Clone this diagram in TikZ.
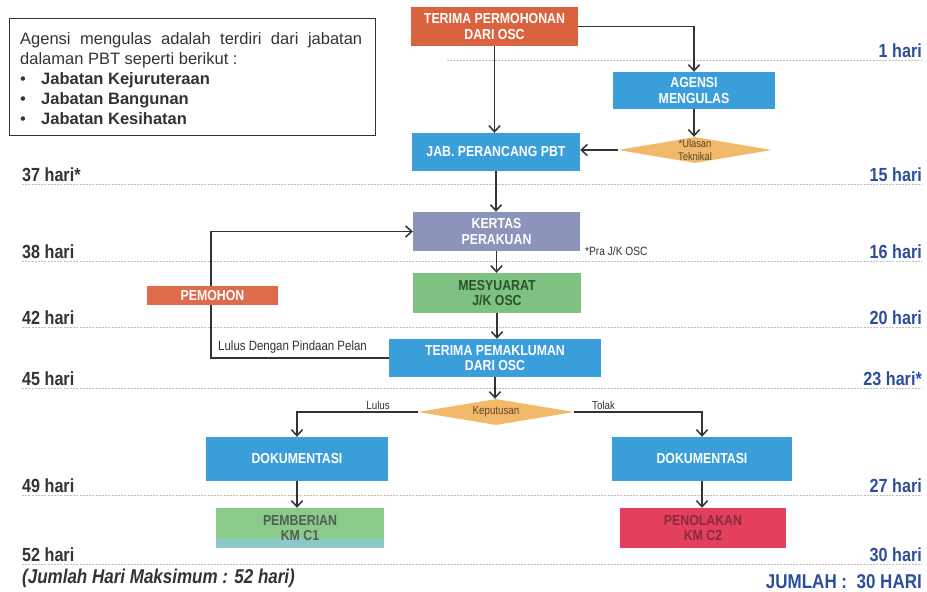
\documentclass[tikz,border=0pt]{standalone}
\usepackage{fontspec}
\setmainfont{Liberation Sans}
\newfontfamily\narrowf[FakeStretch=0.85]{Liberation Sans}
\usetikzlibrary{shapes.geometric,arrows.meta,calc}
\definecolor{orangec}{HTML}{D9633F}
\definecolor{pemohonc}{HTML}{DD6B4C}
\definecolor{bluec}{HTML}{3A9EDB}
\definecolor{kertasc}{HTML}{8C94B9}
\definecolor{greenc}{HTML}{7EC181}
\definecolor{pbgreen}{HTML}{8ACB8A}
\definecolor{pbteal}{HTML}{8CC8C6}
\definecolor{redc}{HTML}{E2405C}
\definecolor{diamondc}{HTML}{F2B96B}
\definecolor{linec}{HTML}{333333}
\definecolor{dayblue}{HTML}{2C4E9C}
\definecolor{daygray}{HTML}{333333}
\definecolor{dtext}{HTML}{5A4528}
\definecolor{pbtext}{HTML}{4F5F55}
\definecolor{pntext}{HTML}{8B2A3A}
\newcommand\boxfnt{\narrowf\bfseries\fontsize{14.5}{15.5}\selectfont}
\newcommand\dayfnt{\narrowf\bfseries\fontsize{19}{21}\selectfont}
\newcommand\lblfnt{\narrowf\fontsize{13.5}{15}\selectfont}
\newcommand\smallfnt{\narrowf\fontsize{11.5}{13}\selectfont}
\newcommand\notefnt{\fontsize{16.5}{20}\selectfont}
\begin{document}
\begin{tikzpicture}[x=1pt,y=-1pt,
  fbox/.style={draw=none, text=white, font=\boxfnt, align=center, inner sep=0pt},
  dia/.style={diamond, fill=diamondc, inner sep=0pt, draw=none},
  diatext/.style={font=\smallfnt, text=dtext, align=center, inner sep=0pt},
  arr/.style={draw=linec, line width=1.5pt, -{Straight Barb[length=6pt,width=11pt]}},
  guide/.style={draw=gray!50, line width=0.6pt, dash pattern=on 2pt off 1.2pt},
  dayl/.style={font=\dayfnt, text=daygray, anchor=base west, inner sep=0pt},
  dayr/.style={font=\dayfnt, text=dayblue, anchor=base east, inner sep=0pt},
  lbl/.style={font=\lblfnt, text=linec, inner sep=0pt}
]
\useasboundingbox[fill=white] (0,0) rectangle (927,592);

% guide lines
\draw[guide] (447,60) -- (922,60);
\foreach \yy in {184,261,327,388,495,564} {\draw[guide] (22,\yy) -- (922,\yy);}

% note box
\node[draw=linec, line width=0.9pt, minimum width=366pt, minimum height=117pt, anchor=north west, inner sep=0pt] (nb) at (9,18) {};
\node[anchor=north west, inner sep=0pt, align=left, font=\notefnt, text=linec] (nt) at (20,32)
 {\makebox[342pt][s]{Agensi mengulas adalah terdiri dari jabatan}\\
  dalaman PBT seperti berikut :\\
  \makebox[21pt][l]{•}\textbf{Jabatan Kejuruteraan}\\
  \makebox[21pt][l]{•}\textbf{Jabatan Bangunan}\\
  \makebox[21pt][l]{•}\textbf{Jabatan Kesihatan}};

% flow nodes
\node[fbox, fill=orangec, minimum width=167pt, minimum height=39pt] (t1) at (494.5,26.5) {TERIMA PERMOHONAN\\DARI OSC};
\node[fbox, fill=bluec, minimum width=162pt, minimum height=37pt] (ag) at (694,90.5) {AGENSI\\MENGULAS};
\node[dia, minimum width=154pt, minimum height=26pt,
      label={[diatext, font=\narrowf\fontsize{11}{13}\selectfont]center:{*Ulasan\\Teknikal}}] (ul) at (695,150) {};
\node[fbox, fill=bluec, minimum width=168pt, minimum height=38pt] (jab) at (496,152) {JAB. PERANCANG PBT};
\node[fbox, fill=kertasc, minimum width=167pt, minimum height=39pt] (kp) at (496.5,231.5) {KERTAS\\PERAKUAN};
\node[fbox, fill=greenc, minimum width=168pt, minimum height=40pt, text=linec!85!green] (ms) at (497,293) {MESYUARAT\\J/K OSC};
\node[fbox, fill=bluec, minimum width=212pt, minimum height=38pt] (tp) at (495,358) {TERIMA PEMAKLUMAN\\DARI OSC};
\node[dia, minimum width=156pt, minimum height=26pt,
      label={[diatext]center:{Keputusan}}] (kep) at (496,412) {};
\node[fbox, fill=bluec, minimum width=182pt, minimum height=44pt] (d1) at (297,459) {DOKUMENTASI};
\node[fbox, fill=bluec, minimum width=180pt, minimum height=44pt] (d2) at (702,459) {DOKUMENTASI};
\node[fbox, fill=pbgreen, text=pbtext, minimum width=168pt, minimum height=40pt,
      path picture={\fill[pbteal] ([yshift=10pt]path picture bounding box.south west) rectangle (path picture bounding box.south east);}] (pb) at (300,528) {PEMBERIAN\\KM C1};
\node[fbox, fill=redc, text=pntext, minimum width=166pt, minimum height=40pt] (pn) at (703,528) {PENOLAKAN\\KM C2};

% connectors
\draw[arr] (t1.south) -- (t1.south |- jab.north);
\draw[arr] (t1.east) -| (ag.north);
\draw[arr] (ag.south) -- (ag.south |- ul.north);
\draw[arr] (ul.west) -- (ul.west -| jab.east);
\draw[arr] (jab.south) -- (jab.south |- kp.north);
\draw[arr] (kp.south) -- (kp.south |- ms.north);
\draw[arr] (ms.south) -- (ms.south |- tp.north);
\coordinate (lp) at (211,358);
\draw[arr] (tp.west) -- (lp) |- (kp.west);
\draw[arr] (tp.south) -- (tp.south |- kep.north);
\draw[arr] (kep.west) -| (d1.north);
\draw[arr] (kep.east) -| (d2.north);
\draw[arr] (d1.south) -- (d1.south |- pb.north);
\draw[arr] (d2.south) -- (d2.south |- pn.north);

% pemohon box (over the loop line)
\node[fbox, fill=pemohonc, minimum width=131pt, minimum height=19pt] (pm) at (212.5,295.5) {PEMOHON};

% connector labels
\node[lbl, anchor=base west] (lpl) at (218,350) {Lulus Dengan Pindaan Pelan};
\node[lbl, font=\smallfnt, anchor=base east] (lul) at (390,409) {Lulus};
\node[lbl, font=\smallfnt, anchor=base west] (tol) at (592,409) {Tolak};
\node[lbl, font=\narrowf\fontsize{12}{13}\selectfont, anchor=base west] (pra) at (585,255) {*Pra J/K OSC};

% day labels left
\node[dayl] (l37) at (22,181.5) {37 hari*};
\node[dayl] (l38) at (22,258.5) {38 hari};
\node[dayl] (l42) at (22,324.5) {42 hari};
\node[dayl] (l45) at (22,385.5) {45 hari};
\node[dayl] (l49) at (22,492.5) {49 hari};
\node[dayl] (l52) at (22,561.5) {52 hari};
\node[dayl, font=\narrowf\bfseries\itshape\fontsize{20}{22}\selectfont] (lmax) at (22,583) {(Jumlah Hari Maksimum : 52 hari)};

% day labels right
\node[dayr] (r1) at (922,57.5) {1 hari};
\node[dayr] (r15) at (922,181.5) {15 hari};
\node[dayr] (r16) at (922,258.5) {16 hari};
\node[dayr] (r20) at (922,324.5) {20 hari};
\node[dayr] (r23) at (922,385.5) {23 hari*};
\node[dayr] (r27) at (922,492.5) {27 hari};
\node[dayr] (r30) at (922,561.5) {30 hari};
\node[dayr, font=\narrowf\bfseries\fontsize{20}{22}\selectfont] (rtot) at (922,588) {JUMLAH :\ \ 30 HARI};
\end{tikzpicture}
\end{document}
